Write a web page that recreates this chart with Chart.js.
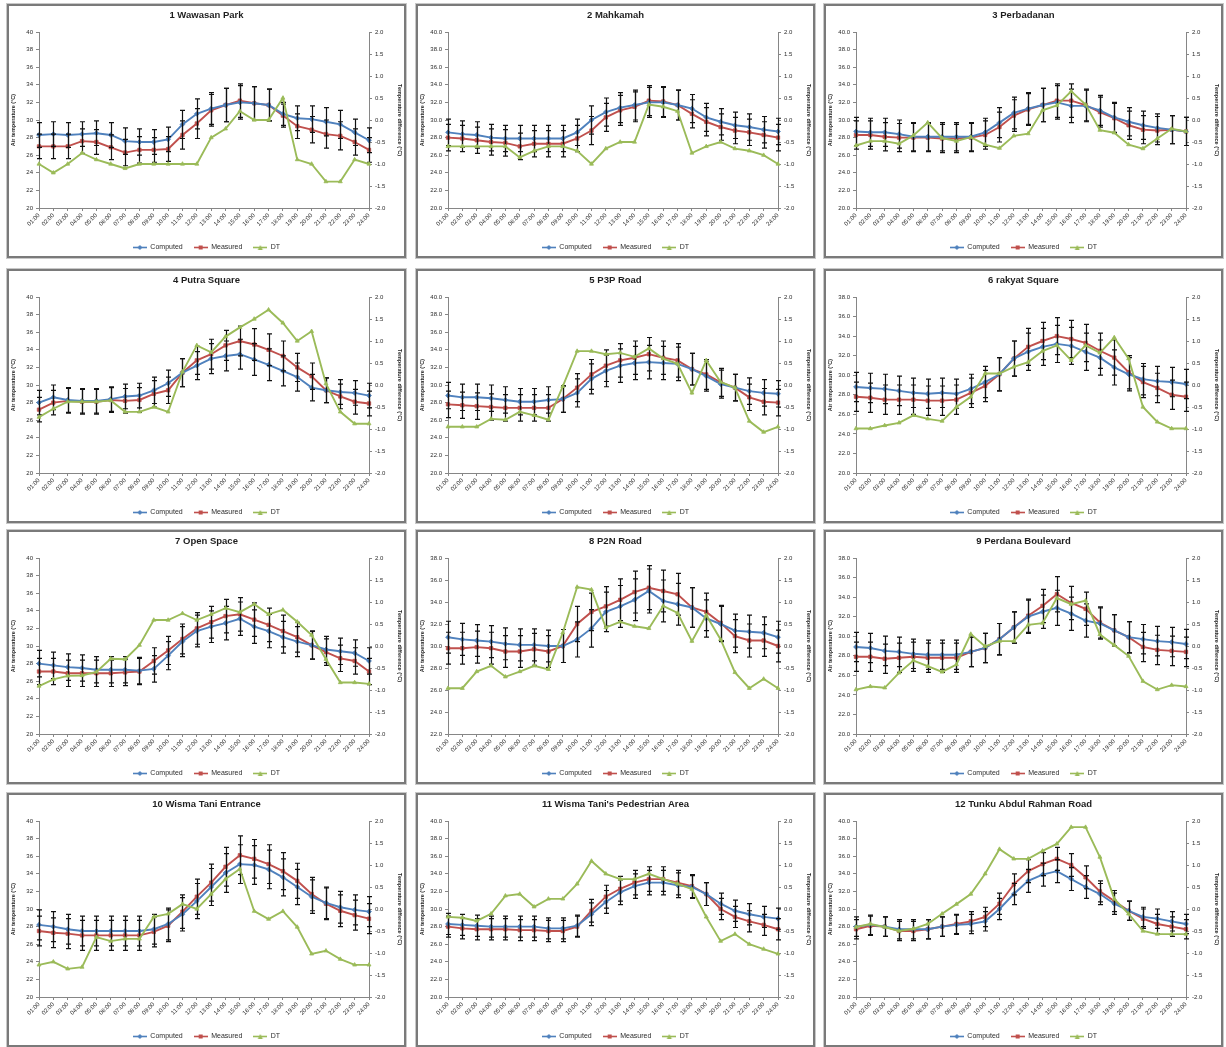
<!DOCTYPE html>
<html>
<head>
<meta charset="utf-8">
<script src="https://cdn.jsdelivr.net/npm/chart.js@4/dist/chart.umd.min.js"></script>
<style>
  html, body { margin: 0; padding: 0; background: #ffffff; }
  body { width: 1226px; height: 1047px; position: relative; overflow: hidden; }
  .panel { position: absolute; width: 395px; height: 250px; border: 2px solid #7a7a7a;
           box-shadow: 0 0 0 1px #c8c8c8; background: #ffffff; }
  .panel canvas { position: absolute; left: 0; top: 0; }
</style>
</head>
<body>
<script>
// ---------------- DATA ----------------
const hours = ["01:00","02:00","03:00","04:00","05:00","06:00","07:00","08:00","09:00","10:00","11:00","12:00",
               "13:00","14:00","15:00","16:00","17:00","18:00","19:00","20:00","21:00","22:00","23:00","24:00"];

const seriesNames = ["Computed", "Measured", "DT"];

const titles = ["1 Wawasan Park", "2 Mahkamah", "3 Perbadanan",
                "4 Putra Square", "5 P3P Road", "6 rakyat Square",
                "7 Open Space", "8 P2N Road", "9 Perdana Boulevard",
                "10 Wisma Tani Entrance", "11 Wisma Tani's Pedestrian Area", "12 Tunku Abdul Rahman Road"];

// left axis (air temperature) range per panel
const leftMin  = [20, 20, 20, 20, 20, 20, 20, 22, 20, 20, 20, 20];
const leftMax  = [40, 40, 40, 40, 40, 38, 40, 38, 38, 40, 40, 40];
const leftStep = [2, 2, 2, 2, 2, 2, 2, 2, 2, 2, 2, 2];
const leftDecimals = [0, 1, 1, 0, 1, 1, 0, 1, 1, 0, 1, 1];
// right axis (temperature difference)
const rightMin = -2, rightMax = 2, rightStep = 0.5;

const p1Computed = [28.3,28.4,28.3,28.4,28.5,28.3,27.6,27.5,27.5,27.8,29.5,30.7,31.3,31.7,32.0,31.9,31.7,30.7,30.2,30.1,29.8,29.5,28.6,27.7];
const p1Measured = [27.0,27.0,27.0,27.6,27.5,26.9,26.3,26.6,26.6,26.7,28.3,29.6,31.1,31.7,32.2,31.9,31.7,30.5,29.3,28.9,28.4,28.2,27.5,26.6];
const p1DT       = [-1.0,-1.2,-1.0,-0.75,-0.9,-1.0,-1.1,-1.0,-1.0,-1.0,-1.0,-1.0,-0.4,-0.2,0.2,0.0,0.0,0.5,-0.9,-1.0,-1.4,-1.4,-0.9,-1.0];
const p1Err      = [1.4,1.4,1.4,1.4,1.4,1.4,1.5,1.5,1.4,1.4,1.6,1.7,1.8,1.9,1.9,1.9,1.8,1.3,1.4,1.5,1.6,1.6,1.5,1.4];

const p2Computed = [28.6,28.4,28.3,28.0,27.9,27.9,27.9,27.9,27.9,28.6,30.0,30.9,31.4,31.7,32.0,32.0,31.7,31.3,30.3,29.8,29.4,29.2,28.9,28.7];
const p2Measured = [28.0,27.9,27.7,27.5,27.4,27.0,27.3,27.3,27.3,27.9,28.8,30.3,31.1,31.5,32.2,32.1,31.7,30.7,29.8,29.2,28.8,28.6,28.3,28.0];
const p2DT       = [-0.6,-0.6,-0.6,-0.6,-0.6,-0.85,-0.7,-0.6,-0.6,-0.7,-1.0,-0.65,-0.5,-0.5,0.35,0.3,0.2,-0.75,-0.6,-0.5,-0.65,-0.7,-0.8,-1.0];
const p2Err      = [1.5,1.5,1.5,1.5,1.5,1.5,1.5,1.5,1.5,1.5,1.6,1.6,1.7,1.7,1.7,1.7,1.7,1.6,1.6,1.5,1.5,1.5,1.5,1.5];

const p3Computed = [28.7,28.6,28.6,28.4,28.1,28.1,28.1,28.1,28.1,28.6,29.7,30.8,31.3,31.7,32.0,31.6,31.6,31.1,30.3,29.8,29.4,29.1,28.9,28.7];
const p3Measured = [28.3,28.3,28.1,28.0,28.0,28.0,27.9,27.9,28.0,28.3,29.2,30.5,31.2,31.7,32.2,32.2,31.7,30.9,30.2,29.4,28.9,28.8,28.9,28.7];
const p3DT       = [-0.58,-0.48,-0.48,-0.54,-0.35,-0.06,-0.41,-0.48,-0.39,-0.56,-0.64,-0.36,-0.31,0.22,0.33,0.65,0.35,-0.23,-0.29,-0.56,-0.65,-0.42,-0.2,-0.26];
const p3Err      = [1.6,1.6,1.6,1.6,1.6,1.6,1.6,1.6,1.6,1.6,1.7,1.8,1.8,1.9,1.9,1.9,1.8,1.7,1.7,1.6,1.6,1.6,1.6,1.6];

const p4Computed = [28.0,28.6,28.3,28.2,28.2,28.4,28.7,28.8,29.4,30.2,31.4,32.2,33.0,33.3,33.5,32.9,32.3,31.6,30.9,29.7,29.4,29.2,29.1,28.8];
const p4Measured = [27.2,28.0,28.2,28.1,28.1,28.3,28.2,28.3,29.0,29.4,31.4,32.8,33.5,34.5,35.0,34.6,34.0,33.3,32.0,31.0,29.4,28.7,28.1,27.9];
const p4DT       = [-0.73,-0.54,-0.38,-0.38,-0.38,-0.35,-0.61,-0.61,-0.5,-0.61,0.3,0.9,0.74,1.1,1.31,1.5,1.71,1.41,1.0,1.22,0.03,-0.61,-0.88,-0.88];
const p4Err      = [1.4,1.4,1.4,1.4,1.4,1.4,1.4,1.4,1.5,1.5,1.6,1.6,1.7,1.7,1.7,1.8,1.8,1.7,1.6,1.5,1.4,1.4,1.4,1.4];

const p5Computed = [28.8,28.6,28.6,28.5,28.3,28.1,28.1,28.3,28.4,29.1,30.7,31.6,32.2,32.5,32.6,32.5,32.4,31.8,31.0,30.1,29.7,29.3,29.1,29.0];
const p5Measured = [27.8,27.7,27.6,27.5,27.4,27.4,27.4,27.4,28.4,29.7,31.2,32.2,32.8,33.1,33.5,33.1,32.8,31.8,31.2,30.3,29.7,28.6,28.1,28.0];
const p5DT       = [-0.95,-0.95,-0.95,-0.77,-0.79,-0.61,-0.69,-0.79,-0.03,0.77,0.77,0.7,0.73,0.64,0.83,0.6,0.48,-0.18,0.56,0.07,-0.06,-0.82,-1.07,-0.95];
const p5Err      = [1.5,1.5,1.5,1.5,1.5,1.5,1.5,1.5,1.5,1.6,1.7,1.8,1.9,1.9,1.9,1.9,1.9,1.8,1.7,1.6,1.5,1.5,1.5,1.5];

const p6Computed = [28.8,28.7,28.6,28.4,28.2,28.1,28.2,28.1,28.6,29.3,30.1,31.7,32.4,32.9,33.2,33.0,32.4,31.8,30.8,30.1,29.6,29.4,29.3,29.1];
const p6Measured = [27.8,27.7,27.5,27.5,27.5,27.4,27.4,27.5,28.2,28.9,30.1,31.7,32.9,33.5,34.0,33.7,33.3,32.5,31.8,30.3,29.3,28.7,28.0,27.8];
const p6DT       = [-0.99,-0.99,-0.92,-0.86,-0.69,-0.77,-0.82,-0.5,-0.27,0.26,0.26,0.41,0.52,0.77,0.9,0.56,0.9,0.73,1.08,0.6,-0.5,-0.84,-0.99,-0.99];
const p6Err      = [1.5,1.5,1.5,1.5,1.5,1.5,1.5,1.5,1.5,1.6,1.7,1.8,1.9,1.9,1.9,1.9,1.9,1.8,1.8,1.7,1.6,1.5,1.5,1.5];

const p7Computed = [28.0,27.8,27.6,27.5,27.3,27.3,27.3,27.2,27.4,28.9,30.5,31.7,32.2,32.6,33.1,32.2,31.7,31.0,30.5,30.1,29.6,29.4,29.2,28.3];
const p7Measured = [27.1,27.1,26.9,26.9,26.9,26.9,27.0,27.1,28.3,29.5,30.8,32.0,32.7,33.4,33.6,33.0,32.4,31.7,31.0,30.1,29.3,28.6,28.3,27.1];
const p7DT       = [-0.91,-0.76,-0.68,-0.67,-0.59,-0.29,-0.3,0.02,0.59,0.59,0.74,0.59,0.72,0.86,0.77,0.95,0.72,0.82,0.55,0.25,-0.3,-0.83,-0.83,-0.86];
const p7Err      = [1.5,1.5,1.5,1.5,1.5,1.5,1.5,1.5,1.5,1.6,1.7,1.8,1.8,1.9,1.9,1.9,1.9,1.8,1.7,1.6,1.5,1.5,1.5,1.5];

const p8Computed = [30.8,30.6,30.5,30.4,30.2,30.1,30.1,30.0,30.0,30.6,31.6,33.1,33.6,34.2,35.0,34.1,33.8,33.5,32.5,32.0,31.4,31.3,31.2,30.8];
const p8Measured = [29.8,29.8,29.9,29.8,29.5,29.5,29.7,29.5,30.0,32.0,33.1,33.6,34.2,34.9,35.3,35.0,34.7,33.5,33.1,32.1,30.9,30.5,30.5,30.0];
const p8DT       = [-0.96,-0.96,-0.58,-0.45,-0.7,-0.58,-0.45,-0.53,0.3,1.34,1.28,0.42,0.55,0.45,0.4,0.91,0.75,0.11,0.7,0.15,-0.6,-0.96,-0.75,-0.96];
const p8Err      = [1.45,1.45,1.45,1.45,1.45,1.45,1.45,1.45,1.5,1.6,1.7,1.8,1.9,1.9,2.0,1.9,1.9,1.8,1.7,1.6,1.5,1.5,1.45,1.45];

const p9Computed = [28.9,28.8,28.5,28.4,28.2,28.1,28.1,28.1,28.4,28.8,29.7,30.9,32.0,32.5,32.9,32.3,31.6,31.3,30.6,29.9,29.7,29.5,29.4,29.2];
const p9Measured = [27.9,27.9,27.7,27.8,27.9,27.8,27.8,27.8,28.4,28.8,29.7,30.9,32.1,33.1,34.3,33.4,32.8,31.4,30.6,29.9,28.9,28.6,28.5,28.4];
const p9DT       = [-0.99,-0.92,-0.95,-0.61,-0.33,-0.46,-0.59,-0.42,0.27,-0.01,0.11,0.11,0.48,0.52,1.09,0.95,1.03,0.26,0.02,-0.23,-0.8,-0.99,-0.89,-0.92];
const p9Err      = [1.5,1.5,1.5,1.5,1.5,1.5,1.5,1.5,1.5,1.5,1.6,1.6,1.7,1.7,1.8,1.7,1.7,1.6,1.6,1.6,1.5,1.5,1.5,1.5];

const p10Computed = [28.2,28.0,27.7,27.5,27.5,27.5,27.5,27.5,27.7,28.3,29.4,30.9,32.5,34.1,35.1,35.0,34.5,33.6,32.5,31.4,30.7,30.2,29.9,29.7];
const p10Measured = [27.5,27.3,27.2,27.0,27.0,27.0,27.0,27.0,27.4,28.1,29.7,31.4,33.0,34.8,36.1,35.7,35.1,34.3,33.2,31.7,30.6,29.8,29.3,28.9];
const p10DT       = [-1.27,-1.2,-1.36,-1.32,-0.64,-0.73,-0.68,-0.68,-0.18,-0.11,0.11,0.0,0.34,0.68,0.91,-0.05,-0.23,-0.05,-0.41,-1.02,-0.95,-1.14,-1.27,-1.27];
const p10Err      = [1.7,1.7,1.7,1.7,1.7,1.7,1.7,1.7,1.7,1.8,1.9,2.0,2.1,2.2,2.2,2.2,2.2,2.1,2.0,1.9,1.8,1.8,1.7,1.7];

const p11Computed = [28.3,28.2,28.1,28.0,28.0,28.0,28.0,27.8,27.8,28.1,29.4,30.8,31.9,32.6,33.0,33.0,32.7,32.5,31.7,30.6,29.8,29.4,29.1,28.9];
const p11Measured = [28.0,27.8,27.7,27.7,27.7,27.6,27.6,27.5,27.5,28.0,29.8,31.4,32.3,33.0,33.4,33.4,33.0,32.6,31.7,30.0,29.1,28.6,28.2,27.7];
const p11DT       = [-0.18,-0.2,-0.27,-0.11,0.3,0.34,0.05,0.23,0.23,0.57,1.09,0.8,0.68,0.68,0.8,0.68,0.57,0.45,-0.18,-0.73,-0.57,-0.8,-0.91,-1.02];
const p11Err      = [1.2,1.2,1.2,1.2,1.2,1.2,1.2,1.2,1.2,1.2,1.3,1.3,1.4,1.4,1.4,1.4,1.4,1.3,1.3,1.2,1.2,1.2,1.2,1.2];

const p12Computed = [28.0,28.2,28.0,27.7,27.7,27.7,28.0,28.2,28.3,28.6,30.0,31.7,33.2,33.9,34.3,33.4,32.5,31.7,30.6,29.8,29.1,28.9,28.6,28.3];
const p12Measured = [27.7,28.1,28.0,27.5,27.5,27.7,28.0,28.3,28.6,29.1,30.6,32.8,34.3,35.1,35.7,35.0,33.6,32.0,30.9,29.8,28.9,28.3,28.0,27.7];
const p12DT       = [-0.41,-0.34,-0.41,-0.5,-0.45,-0.34,-0.11,0.11,0.34,0.8,1.36,1.14,1.14,1.32,1.48,1.86,1.86,1.18,0.23,-0.11,-0.5,-0.57,-0.57,-0.57];
const p12Err      = [1.1,1.1,1.1,1.1,1.1,1.1,1.1,1.1,1.1,1.1,1.2,1.2,1.3,1.3,1.3,1.3,1.3,1.2,1.2,1.1,1.1,1.1,1.1,1.1];

const computedSets = [p1Computed,p2Computed,p3Computed,p4Computed,p5Computed,p6Computed,p7Computed,p8Computed,p9Computed,p10Computed,p11Computed,p12Computed];
const measuredSets = [p1Measured,p2Measured,p3Measured,p4Measured,p5Measured,p6Measured,p7Measured,p8Measured,p9Measured,p10Measured,p11Measured,p12Measured];
const dtSets       = [p1DT,p2DT,p3DT,p4DT,p5DT,p6DT,p7DT,p8DT,p9DT,p10DT,p11DT,p12DT];
const errSets      = [p1Err,p2Err,p3Err,p4Err,p5Err,p6Err,p7Err,p8Err,p9Err,p10Err,p11Err,p12Err];

// ---------------- STYLE / LAYOUT ----------------
const COLORS = ["#4F81BD", "#C0504D", "#9BBB59"];
const STYLES = ["rectRot", "rect", "triangle"];
const colLeft = [7, 416, 824];
const rowTop = [4, 269, 530, 793];
const CW = 395, CH = 250;
const AXIS = "#868686", TXT = "#2b2b2b";

Chart.defaults.font.family = '"Liberation Sans", Arial, sans-serif';
Chart.defaults.color = TXT;

function makeIcon(k) {
  const c = document.createElement("canvas");
  c.width = 14; c.height = 7;
  const g = c.getContext("2d");
  g.strokeStyle = COLORS[k]; g.fillStyle = COLORS[k]; g.lineWidth = 1.6;
  g.beginPath(); g.moveTo(0, 3.5); g.lineTo(14, 3.5); g.stroke();
  g.beginPath();
  if (k === 0) { g.moveTo(7, 1); g.lineTo(9.5, 3.5); g.lineTo(7, 6); g.lineTo(4.5, 3.5); g.closePath(); }
  else if (k === 1) { g.rect(5, 1.5, 4, 4); }
  else { g.moveTo(7, 1); g.lineTo(9.5, 6); g.lineTo(4.5, 6); g.closePath(); }
  g.fill();
  return c;
}
const icons = [makeIcon(0), makeIcon(1), makeIcon(2)];

const errorBarPlugin = {
  id: "errorBars",
  afterDatasetDraw(chart, args) {
    if (args.index !== 0) return;
    const ctx = chart.ctx;
    const ys = chart.scales.y;
    ctx.save();
    ctx.strokeStyle = "#111";
    ctx.lineWidth = 1.2;
    [1, 0].forEach(di => {
      const ds = chart.data.datasets[di];
      const meta = chart.getDatasetMeta(di);
      ds.data.forEach((v, i) => {
        const e = ds.errorBars[i];
        const x = Math.round(meta.data[i].x) + 0.5;
        const yt = ys.getPixelForValue(v + e);
        const yb = ys.getPixelForValue(v - e);
        ctx.beginPath();
        ctx.moveTo(x, yt); ctx.lineTo(x, yb);
        ctx.moveTo(x - 2.5, yt); ctx.lineTo(x + 2.5, yt);
        ctx.moveTo(x - 2.5, yb); ctx.lineTo(x + 2.5, yb);
        ctx.stroke();
      });
    });
    ctx.restore();
  }
};

function makePanel(p) {
  const col = p % 3, row = Math.floor(p / 3);
  const div = document.createElement("div");
  div.className = "panel";
  div.style.left = colLeft[col] + "px";
  div.style.top = rowTop[row] + "px";
  const cv = document.createElement("canvas");
  cv.width = CW; cv.height = CH;
  cv.style.width = CW + "px"; cv.style.height = CH + "px";
  div.appendChild(cv);
  document.body.appendChild(div);

  const dec = leftDecimals[p];
  const gridOpts = { display: true, drawOnChartArea: false, drawTicks: true, tickLength: 3, color: AXIS, lineWidth: 1 };
  const lineDs = (k, data, axis, order, extra) => Object.assign({
    label: seriesNames[k], data, yAxisID: axis, order,
    borderColor: COLORS[k], backgroundColor: COLORS[k],
    borderWidth: 1.9, pointStyle: STYLES[k], pointRadius: k === 2 ? 2.3 : 2.4,
    pointBorderWidth: 0.8, pointBorderColor: COLORS[k], pointBackgroundColor: COLORS[k],
    tension: 0
  }, extra || {});

  new Chart(cv, {
    type: "line",
    data: {
      labels: hours,
      datasets: [
        lineDs(0, computedSets[p], "y", 2, { errorBars: errSets[p] }),
        lineDs(1, measuredSets[p], "y", 3, { errorBars: errSets[p] }),
        lineDs(2, dtSets[p], "y1", 1)
      ]
    },
    options: {
      responsive: false, animation: false, devicePixelRatio: 1,
      layout: { padding: 0 },
      plugins: {
        tooltip: { enabled: false },
        title: { display: true, text: titles[p], color: "#1e1e1e",
                 font: { size: 9.5, weight: "bold" }, padding: { top: 4, bottom: 10.6 } },
        legend: {
          display: true, position: "bottom", maxHeight: 23,
          labels: {
            usePointStyle: true, pointStyleWidth: 14, padding: 11, color: TXT,
            font: { size: 7 },
            generateLabels(chart) {
              const items = Chart.defaults.plugins.legend.labels.generateLabels(chart);
              items.sort((a, b) => a.datasetIndex - b.datasetIndex);
              items.forEach(it => { it.pointStyle = icons[it.datasetIndex]; });
              return items;
            }
          }
        }
      },
      scales: {
        x: {
          type: "category", offset: false,
          grid: gridOpts, border: { display: true, color: AXIS },
          ticks: { autoSkip: false, minRotation: 45, maxRotation: 45, font: { size: 6 }, color: TXT, padding: 1 },
          afterFit(s) { s.height = 25; }
        },
        y: {
          position: "left", min: leftMin[p], max: leftMax[p],
          grid: gridOpts, border: { display: true, color: AXIS },
          ticks: { stepSize: leftStep[p], font: { size: 6 }, color: TXT, padding: 3,
                   callback: v => Number(v).toFixed(dec) },
          title: { display: true, text: "Air temperature (°C)", color: "#1e1e1e",
                   font: { size: 5.5, weight: "bold" }, padding: { top: 1, bottom: 1 } },
          afterFit(s) { s.width = 30; }
        },
        y1: {
          position: "right", min: rightMin, max: rightMax,
          grid: gridOpts, border: { display: true, color: AXIS },
          ticks: { stepSize: rightStep, font: { size: 6 }, color: TXT, padding: 3,
                   callback: v => Number(v).toFixed(1) },
          title: { display: true, text: "Temperature difference (°C)", color: "#1e1e1e",
                   font: { size: 5.5, weight: "bold" }, padding: { top: 1, bottom: 1 } },
          afterFit(s) { s.width = 35; }
        }
      }
    },
    plugins: [errorBarPlugin]
  });
}

for (let p = 0; p < 12; p++) makePanel(p);
</script>
</body>
</html>
